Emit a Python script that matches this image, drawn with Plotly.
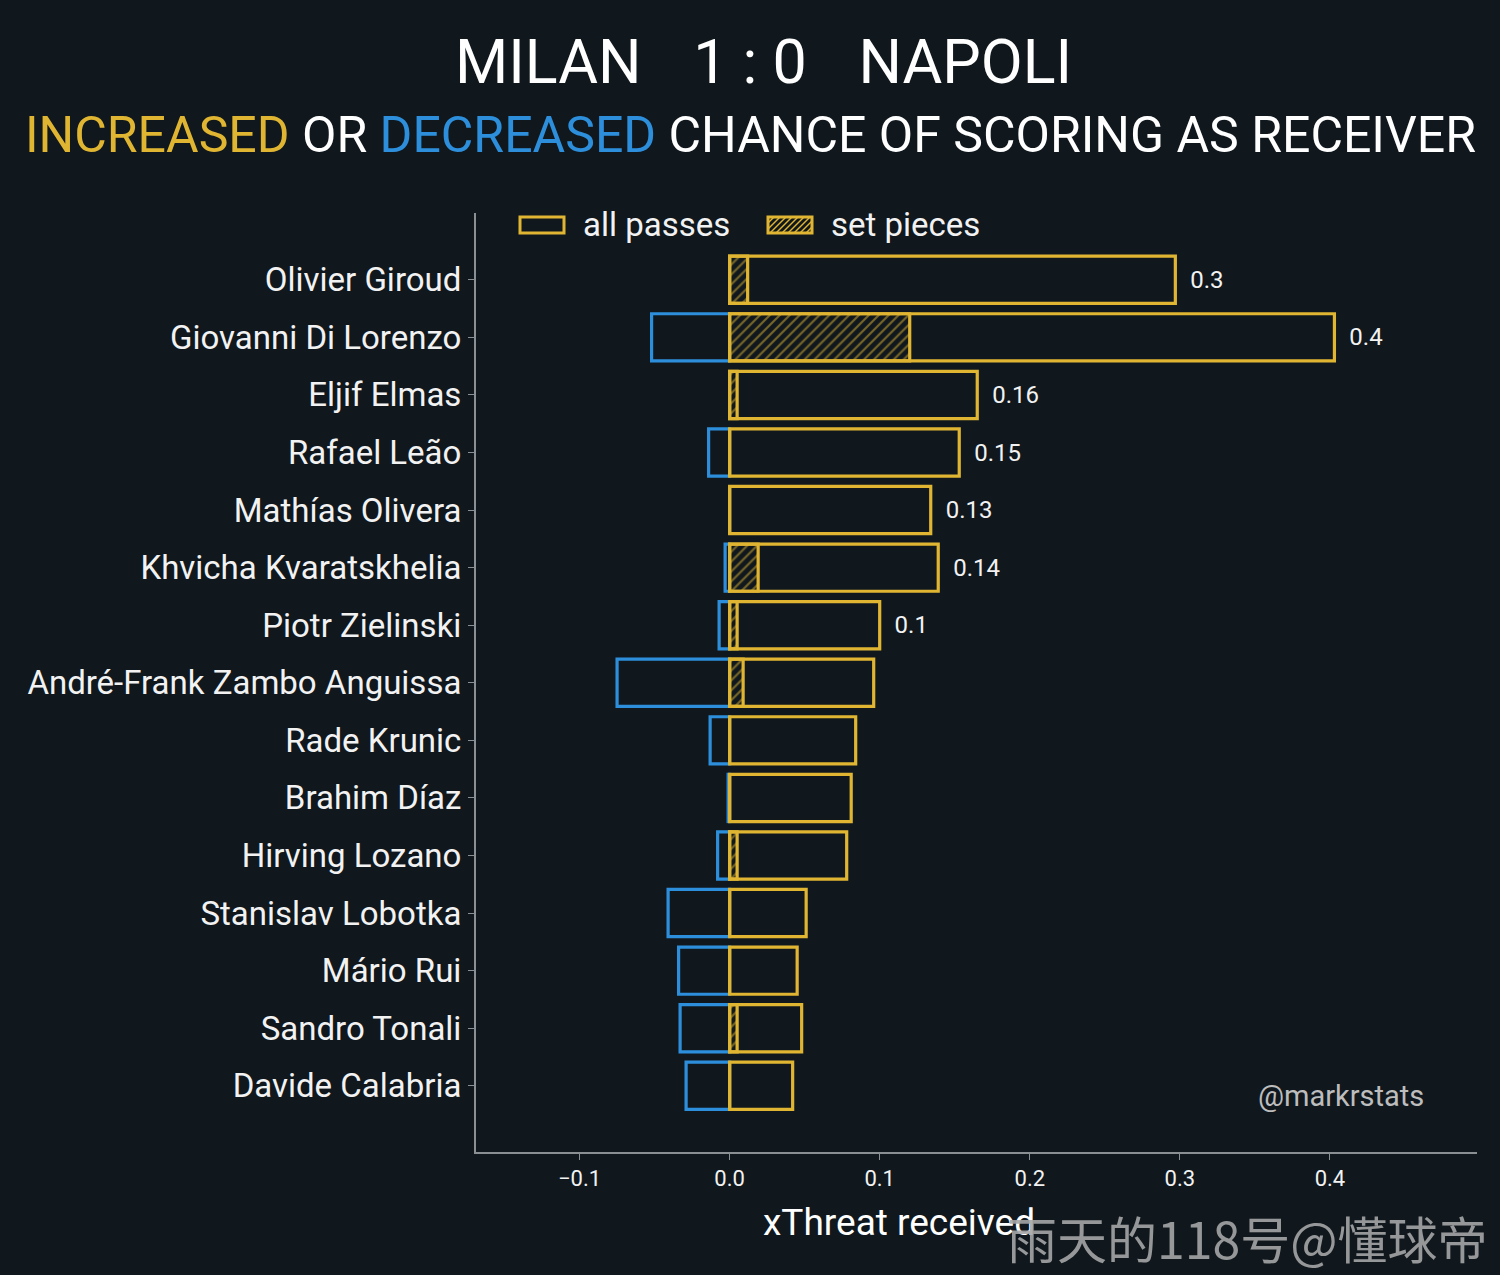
import plotly.graph_objects as go

# xThreat received per player
players = ['Olivier Giroud', 'Giovanni Di Lorenzo', 'Eljif Elmas', 'Rafael Leão',
           'Mathías Olivera', 'Khvicha Kvaratskhelia', 'Piotr Zielinski',
           'André-Frank Zambo Anguissa', 'Rade Krunic', 'Brahim Díaz',
           'Hirving Lozano', 'Stanislav Lobotka', 'Mário Rui', 'Sandro Tonali',
           'Davide Calabria']
xt_positive = [0.297, 0.403, 0.165, 0.153, 0.134, 0.139, 0.100, 0.096,
               0.084, 0.081, 0.078, 0.051, 0.045, 0.048, 0.042]
xt_negative = [0.0, -0.052, 0.0, -0.014, 0.0, -0.003, -0.007, -0.075,
               -0.013, -0.001, -0.008, -0.041, -0.034, -0.033, -0.029]
xt_set_pieces = [0.012, 0.120, 0.005, 0.0, 0.0, 0.019, 0.005, 0.009,
                 0.0, 0.0, 0.005, 0.0, 0.0, 0.005, 0.0]
value_labels = ['0.3', '0.4', '0.16', '0.15', '0.13', '0.14', '0.1',
                '', '', '', '', '', '', '', '']
x_ticks = [-0.1, 0.0, 0.1, 0.2, 0.3, 0.4]
x_ticktext = ['\u22120.1', '0.0', '0.1', '0.2', '0.3', '0.4']

BG = '#10181e'
YELLOW = '#e0b532'
BLUE = '#2d8fdb'
WHITE = '#f2f2f2'
AXIS = '#8a8f93'
FONT = 'Roboto'

W, H = 1500, 1275
L, R, T, B = 476, 23, 213, 123


# helpers: page pixels -> paper coords (paper = plot area)
def px_x(px):
    return (px - L) / (W - L - R)


def px_y(py):
    return (H - B - py) / (H - T - B)


fig = go.Figure()

fig.add_trace(go.Bar(
    y=players, x=xt_negative, orientation='h', width=0.82,
    marker=dict(color='rgba(0,0,0,0)', line=dict(color=BLUE, width=3.2)),
    showlegend=False, hoverinfo='x+y'))

fig.add_trace(go.Bar(
    y=players, x=xt_positive, orientation='h', width=0.82, name='all passes',
    marker=dict(color='rgba(0,0,0,0)', line=dict(color=YELLOW, width=3.2)),
    text=['\u00a0\u00a0' + t if t else '' for t in value_labels],
    textposition='outside', cliponaxis=False,
    textfont=dict(color=WHITE, size=24, family=FONT)))

fig.add_trace(go.Bar(
    y=players, x=xt_set_pieces, orientation='h', width=0.82, name='set pieces',
    marker=dict(color='rgba(0,0,0,0)', line=dict(color=YELLOW, width=3.2),
                pattern=dict(shape='/', fgcolor=YELLOW, bgcolor='rgba(0,0,0,0)',
                             size=7, solidity=0.3))))

annotations = [
    dict(x=px_x(763), y=px_y(62), xanchor='center', yanchor='middle',
         text='MILAN \u00a0\u00a0\u200a1 : 0 \u00a0\u00a0\u200aNAPOLI',
         font=dict(size=61, color='#ffffff', family=FONT)),
    dict(x=px_x(750), y=px_y(135), xanchor='center', yanchor='middle',
         text=("<span style='color:%s'>INCREASED</span> OR "
               "<span style='color:%s'>DECREASED</span> CHANCE OF SCORING AS RECEIVER"
               % (YELLOW, BLUE)),
         font=dict(size=50, color='#ffffff', family=FONT)),
    dict(x=px_x(581), y=px_y(224), xanchor='left', yanchor='middle',
         text='all passes', font=dict(size=33, color=WHITE, family=FONT)),
    dict(x=px_x(829), y=px_y(224), xanchor='left', yanchor='middle',
         text='set pieces', font=dict(size=33, color=WHITE, family=FONT)),
    dict(x=px_x(899), y=px_y(1222), xanchor='center', yanchor='middle',
         text='xThreat received', font=dict(size=37, color='#ffffff', family=FONT)),
    dict(x=px_x(1341), y=px_y(1096), xanchor='center', yanchor='middle',
         text='@markrstats', font=dict(size=29, color='#bdbdbd', family=FONT)),
    dict(x=px_x(1490), y=px_y(1237), xanchor='right', yanchor='middle',
         text='雨天的118号@懂球帝',
         font=dict(size=50, color='rgba(165,165,165,0.9)',
                   family='Noto Sans CJK SC')),
]
for a in annotations:
    a.update(xref='paper', yref='paper', showarrow=False)

# legend boxes drawn by hand (wide rectangles like the original)
shapes = []
for x0 in (520, 768):
    shapes.append(dict(type='rect', xref='paper', yref='paper',
                       x0=px_x(x0), x1=px_x(x0 + 44), y0=px_y(233), y1=px_y(217),
                       line=dict(color=YELLOW, width=3), fillcolor='rgba(0,0,0,0)'))
# hatch inside the "set pieces" box
bx0, bx1, by0, by1 = 768, 812, 217, 233
hh = by1 - by0
c = bx0 - hh
while c < bx1:
    xa, ya = c, by1
    xb, yb = c + hh, by0
    if xa < bx0:
        ya = by1 - (bx0 - xa)
        xa = bx0
    if xb > bx1:
        yb = by0 + (xb - bx1)
        xb = bx1
    if xb > xa:
        shapes.append(dict(type='line', xref='paper', yref='paper',
                           x0=px_x(xa), y0=px_y(ya), x1=px_x(xb), y1=px_y(yb),
                           line=dict(color=YELLOW, width=1.5)))
    c += 6

fig.update_layout(
    width=W, height=H,
    paper_bgcolor=BG, plot_bgcolor=BG,
    barmode='overlay',
    margin=dict(l=L, r=R, t=T, b=B),
    font=dict(family=FONT, color=WHITE),
    showlegend=False,
    annotations=annotations,
    shapes=shapes,
)

fig.update_xaxes(range=[-0.169, 0.498], tickvals=x_ticks, ticktext=x_ticktext,
                 showgrid=False, zeroline=False, showline=True, linecolor=AXIS,
                 linewidth=2, ticks='outside', ticklen=6, tickcolor=AXIS,
                 tickfont=dict(size=22, color=WHITE))

fig.update_yaxes(autorange=False, range=[15.15, -1.16], showgrid=False,
                 zeroline=False, showline=True, linecolor=AXIS, linewidth=2,
                 ticks='outside', ticklen=6, tickcolor=AXIS,
                 tickfont=dict(size=33, color=WHITE))

fig.write_html('out.html', config={'displayModeBar': False},
               post_script="document.body.style.margin='0';"
                           "document.body.style.overflow='hidden';")
